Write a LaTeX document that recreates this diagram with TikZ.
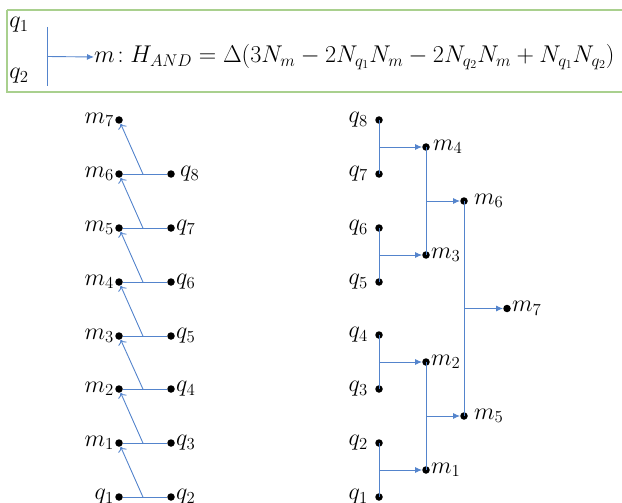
\documentclass[tikz,border=0pt]{standalone}
\usepackage{fix-cm}
\usetikzlibrary{calc,arrows.meta}
\definecolor{lnblue}{RGB}{84,132,204}
\definecolor{boxgreen}{RGB}{169,208,142}
\begin{document}
\begin{tikzpicture}[x=1pt,y=-1pt,
  dot/.style={circle,fill=black,inner sep=0pt,minimum size=7.5pt},
  lbl/.style={font=\fontsize{24}{28}\selectfont,inner sep=1pt},
  wire/.style={lnblue,line width=0.9pt},
  openarr/.style={wire,-{To[length=5pt,width=9pt]}},
  fillarr/.style={wire,-{Latex[length=7pt,width=6pt]}},
  every label/.style={lbl,label distance=0pt}]
\useasboundingbox (0,0) rectangle (622,503);
% top box
\draw[boxgreen,line width=1.5pt] (7,10) -- (623,10) (7,10) -- (7,92) -- (623,92);
\node[lbl] (tq1) at (19,25) {$q_1$};
\node[lbl] (tq2) at (19,76) {$q_2$};
\coordinate (ttop) at (47,27);
\coordinate (tbot) at (47,86);
\node[lbl,anchor=west,inner sep=0pt,font=\fontsize{24.2}{28}\selectfont] (form) at (94,57)
  {$m\!:H_{AND}=\Delta(3N_m-2N_{q_1}N_m-2N_{q_2}N_m+N_{q_1}N_{q_2})$};
\draw[wire] (ttop) -- (tbot);
\draw[fillarr] ($(ttop)!0.5!(tbot)$) -- (form.west);
% left chain
\node[dot,label=left:{$m_7$}] (Lm7) at (119,120) {};
\node[dot,label=left:{$m_6$}] (Lm6) at (119,174) {};
\node[dot,label=left:{$m_5$}] (Lm5) at (119,228) {};
\node[dot,label=left:{$m_4$}] (Lm4) at (119,282) {};
\node[dot,label=left:{$m_3$}] (Lm3) at (119,336) {};
\node[dot,label=left:{$m_2$}] (Lm2) at (119,389) {};
\node[dot,label=left:{$m_1$}] (Lm1) at (119,443) {};
\node[dot,label=left:{$q_1$}] (Lq1) at (119,497) {};
\node[dot,label={[label distance=4pt]right:{$q_8$}}] (Lq8) at (171,174) {};
\node[dot,label=right:{$q_7$}] (Lq7) at (171,228) {};
\node[dot,label=right:{$q_6$}] (Lq6) at (171,282) {};
\node[dot,label=right:{$q_5$}] (Lq5) at (171,336) {};
\node[dot,label=right:{$q_4$}] (Lq4) at (171,389) {};
\node[dot,label=right:{$q_3$}] (Lq3) at (171,443) {};
\node[dot,label=right:{$q_2$}] (Lq2) at (171,497) {};
\foreach \a/\b/\c in {Lm6/Lq8/Lm7,Lm5/Lq7/Lm6,Lm4/Lq6/Lm5,Lm3/Lq5/Lm4,Lm2/Lq4/Lm3,Lm1/Lq3/Lm2,Lq1/Lq2/Lm1}{
  \draw[wire] (\a) -- (\b);
  \draw[openarr] ($(\a)!0.46!(\b)$) -- (\c);
}
% right tree
\node[dot,label={[label distance=6pt]left:{$q_8$}}] (Rq8) at (379,120) {};
\node[dot,label={[label distance=6pt]left:{$q_7$}}] (Rq7) at (379,174) {};
\node[dot,label={[label distance=6pt]left:{$q_6$}}] (Rq6) at (379,228) {};
\node[dot,label={[label distance=6pt]left:{$q_5$}}] (Rq5) at (379,282) {};
\node[dot,label={[label distance=6pt]left:{$q_4$}}] (Rq4) at (379,335) {};
\node[dot,label={[label distance=6pt]left:{$q_3$}}] (Rq3) at (379,389) {};
\node[dot,label={[label distance=6pt]left:{$q_2$}}] (Rq2) at (379,443) {};
\node[dot,label={[label distance=6pt]left:{$q_1$}}] (Rq1) at (379,497) {};
\node[dot,label={[label distance=2pt]right:{$m_4$}}] (Rm4) at (426,147) {};
\node[dot,label=right:{$m_3$}] (Rm3) at (426,255) {};
\node[dot,label=right:{$m_2$}] (Rm2) at (426,362) {};
\node[dot,label=right:{$m_1$}] (Rm1) at (426,470) {};
\node[dot,label={[label distance=5pt]right:{$m_6$}}] (Rm6) at (464,201) {};
\node[dot,label={[label distance=5pt]right:{$m_5$}}] (Rm5) at (464,416) {};
\node[dot,label=right:{$m_7$}] (Rm7) at (507,308.5) {};
\foreach \a/\b/\c in {Rq8/Rq7/Rm4,Rq6/Rq5/Rm3,Rq4/Rq3/Rm2,Rq2/Rq1/Rm1,Rm4/Rm3/Rm6,Rm2/Rm1/Rm5,Rm6/Rm5/Rm7}{
  \draw[wire] (\a.center) -- (\b.center);
  \draw[fillarr] ($(\a)!0.5!(\b)$) -- (\c);
}
\end{tikzpicture}
\end{document}
